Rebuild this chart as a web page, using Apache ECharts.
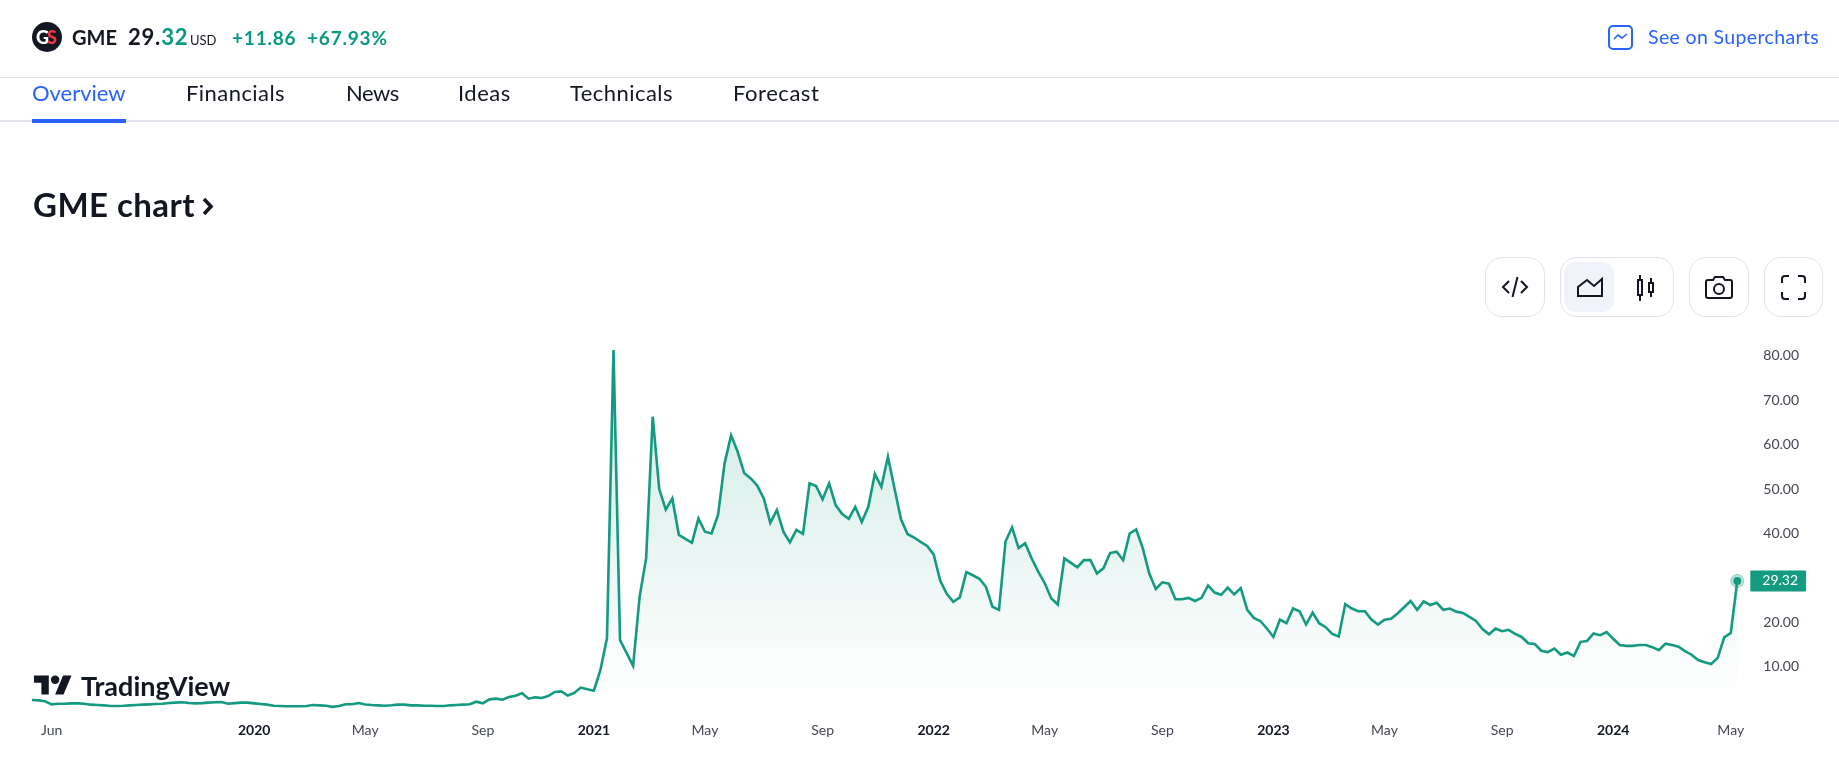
<!DOCTYPE html>
<html>
<head>
<meta charset="utf-8">
<title>GME chart</title>
<script src="https://cdn.jsdelivr.net/npm/echarts@6/dist/echarts.min.js"></script>
<style>
html,body{margin:0;padding:0;background:#fff;overflow:hidden;width:1839px;height:767px;font-family:Lato,"Noto Sans",sans-serif;color:#131722}
#chart{position:absolute;left:0;top:0;width:1839px;height:767px}
.t{position:absolute;white-space:nowrap;line-height:1}
.ln{position:absolute;left:0;width:1839px;background:#e0e3eb}
.btn{position:absolute;top:257px;height:60px;box-sizing:border-box;border:1px solid #e0e3eb;border-radius:17px;background:#fff}
svg.i{position:absolute}
.tab{font-size:22px;top:82px}
</style>
</head>
<body>
<div id="chart"></div>

<div style="position:absolute;left:32px;top:22px;width:30px;height:30px;border-radius:50%;background:#131722"></div>
<div class="t" style="left:36px;top:28px;font-size:18px;font-weight:900;color:#fff;letter-spacing:-2px">G<span style="color:#f23645">S</span></div>
<div class="t" style="left:72px;top:27px;font-size:20px;font-weight:700">GME</div>
<div class="t" style="left:128px;top:26px;font-size:22px;font-weight:700;letter-spacing:.8px">29.<span style="color:#089981">32</span></div>
<div class="t" style="left:190px;top:34px;font-size:13px">USD</div>
<div class="t" style="left:232px;top:28px;font-size:19px;font-weight:700;color:#089981;letter-spacing:.8px">+11.86</div>
<div class="t" style="left:307px;top:28px;font-size:19px;font-weight:700;color:#089981;letter-spacing:.8px">+67.93%</div>
<svg class="i" style="left:1608px;top:25px" width="25" height="25" viewBox="0 0 25 25" fill="none" stroke="#2962ff" stroke-width="2"><rect x="1" y="1" width="23" height="23" rx="4"/><path d="M6 14l4-4 4 3 5-4" stroke-width="1.6"/></svg>
<div class="t" style="left:1648px;top:27px;font-size:19.5px;letter-spacing:.36px;color:#2962ff">See on Supercharts</div>

<div class="ln" style="top:77px;height:1px"></div>
<div class="ln" style="top:120px;height:2px"></div>
<div style="position:absolute;left:32px;top:119px;width:94px;height:4px;background:#2962ff"></div>
<div class="t tab" style="left:32px;color:#2962ff">Overview</div>
<div class="t tab" style="left:186px;letter-spacing:.45px">Financials</div>
<div class="t tab" style="left:346px;letter-spacing:-.5px">News</div>
<div class="t tab" style="left:458px;letter-spacing:.5px">Ideas</div>
<div class="t tab" style="left:570px;letter-spacing:.45px">Technicals</div>
<div class="t tab" style="left:733px;letter-spacing:.55px">Forecast</div>

<div class="t" style="left:33px;top:188px;font-size:33px;font-weight:700;letter-spacing:.45px">GME chart</div>
<svg class="i" style="left:202px;top:197px" width="13" height="19" viewBox="0 0 13 19" fill="none" stroke="#131722" stroke-width="3.6"><path d="M2 2l7 7.5L2 17"/></svg>

<div class="btn" style="left:1485px;width:60px"></div>
<svg class="i" style="left:1500px;top:272px" width="30" height="30" viewBox="0 0 30 30" fill="none" stroke="#131722" stroke-width="2"><path d="M9 9l-6 6 6 6M21 9l6 6-6 6M17.5 5l-5 20"/></svg>
<div class="btn" style="left:1560px;width:114px"></div>
<div style="position:absolute;left:1564px;top:262px;width:50px;height:50px;border-radius:12px;background:#f0f3fa"></div>
<svg class="i" style="left:1576px;top:276px" width="28" height="22" viewBox="0 0 28 22" fill="none" stroke="#131722" stroke-width="2"><path d="M2 20h24V3l-8 7-7-6-9 7z"/></svg>
<svg class="i" style="left:1636px;top:274px" width="20" height="28" viewBox="0 0 20 28" fill="none" stroke="#131722" stroke-width="2"><rect x="2" y="6" width="4" height="15"/><path d="M4 1v5M4 21v6"/><rect x="13" y="9" width="4" height="9"/><path d="M15 4v5M15 18v5"/></svg>
<div class="btn" style="left:1689px;width:60px"></div>
<svg class="i" style="left:1704px;top:275px" width="30" height="25" viewBox="0 0 30 25" fill="none" stroke="#131722" stroke-width="2"><path d="M4 5h5l2-3h8l2 3h5a2 2 0 0 1 2 2v14a2 2 0 0 1-2 2H4a2 2 0 0 1-2-2V7a2 2 0 0 1 2-2z"/><circle cx="15" cy="14" r="5"/></svg>
<div class="btn" style="left:1764px;width:59px"></div>
<svg class="i" style="left:1780px;top:274px" width="27" height="27" viewBox="0 0 27 27" fill="none" stroke="#131722" stroke-width="2"><path d="M9 2H5a3 3 0 0 0-3 3v4M18 2h4a3 3 0 0 1 3 3v4M9 25H5a3 3 0 0 1-3-3v-4M18 25h4a3 3 0 0 0 3-3v-4"/></svg>

<svg class="i" style="left:34px;top:671px;z-index:5" width="38" height="30" viewBox="0 0 36 28" fill="#131722"><path d="M14 22H7V11H0V4h14v18zM28 22h-8l7.5-18h8L28 22z"/><circle cx="20" cy="8" r="4"/></svg>
<div class="t" style="left:81px;top:672px;font-size:27px;font-weight:700;color:#131722;z-index:5">TradingView</div>

<script>
// Weekly closes, one array per calendar year.
const prices2019 = [2.5,2.42,2.2,1.52,1.67,1.67,1.74,1.74,1.67,1.45,1.37,1.3,1.15,1.15,1.2,1.3,1.37,1.45,1.52,1.6,1.67,1.82,1.9,2.0,1.82,1.74,1.8,1.9,2.0,2.05,1.67,1.8,1.9,1.9];
const prices2020 = [1.74,1.6,1.45,1.2,1.15,1.08,1.08,1.08,1.15,1.37,1.3,1.22,0.95,1.15,1.53,1.53,1.83,1.5,1.37,1.3,1.22,1.3,1.45,1.45,1.3,1.3,1.22,1.22,1.15,1.15,1.3,1.37,1.45,1.53,2.12,1.75,2.65,2.8,2.57,3.17,3.47,4.0,2.8,3.1,2.95,3.4,4.3,4.45,3.5,4.1,5.3,4.9];
const prices2021 = [4.6,9.26,16.4,81.3,16.0,13.1,10.2,25.8,34.5,66.3,50.0,45.4,47.9,39.7,38.8,37.9,43.4,40.4,40.0,44.2,55.8,62.1,58.4,53.6,52.4,50.8,47.9,42.4,45.3,40.4,38.0,40.8,39.9,51.3,50.7,47.7,51.3,46.4,44.4,43.3,46.0,42.6,46.0,53.4,50.5,57.3,50.2,43.2,39.9,39.1,38.1,37.2];
const prices2022 = [35.3,29.4,26.4,24.6,25.6,31.3,30.6,29.8,28.0,23.5,22.8,38.2,41.4,36.7,37.8,34.4,31.4,28.8,25.4,24.0,34.4,33.4,32.4,34.0,34.0,31.0,32.2,35.6,35.9,34.0,40.0,40.9,36.7,31.0,27.5,29.0,28.7,25.2,25.2,25.5,24.8,25.5,28.3,26.7,26.2,27.8,26.3,27.7,22.8,21.0,20.3,18.6];
const prices2023 = [16.7,20.6,19.8,23.1,22.5,19.5,22.2,19.8,18.9,17.4,16.8,24.1,23.1,22.5,22.5,20.6,19.5,20.6,20.8,22.0,23.4,24.8,22.8,24.7,23.9,24.4,22.8,23.1,22.4,22.1,21.2,20.3,18.5,17.3,18.6,18.0,18.3,17.4,16.7,15.3,15.1,13.6,13.3,14.1,12.7,13.2,12.4,15.6,15.8,17.5,17.1,17.8];
const prices2024 = [16.3,14.9,14.7,14.7,14.9,14.9,14.4,13.7,15.2,14.9,14.5,13.5,12.7,11.5,11.0,10.6,12.0,16.6,17.6,29.32];
const prices = [].concat(prices2019, prices2020, prices2021, prices2022, prices2023, prices2024);

// One category per trading week, starting on the Monday of the first bar.
const firstWeekUTC = Date.UTC(2019, 4, 13);
const weeks = prices.map((_, i) => new Date(firstWeekUTC + i * 7 * 86400000).toISOString().slice(0, 10));

const tickWeeks  = ['2019-06-03','2020-01-06','2020-05-04','2020-09-07','2021-01-04','2021-05-03','2021-09-06','2022-01-03','2022-05-02','2022-09-05','2023-01-02','2023-05-01','2023-09-04','2024-01-01','2024-05-06'];
const tickLabels = ['Jun','2020','May','Sep','2021','May','Sep','2022','May','Sep','2023','May','Sep','2024','May'];

const GREEN = '#149a80';
const FONT = 'Lato, "Noto Sans", sans-serif';
const lastWeek = weeks[weeks.length - 1];
const lastPrice = prices[prices.length - 1];

const chart = echarts.init(document.getElementById('chart'), null, {renderer: 'canvas'});
chart.setOption({
  animation: false,
  backgroundColor: 'transparent',
  grid: {left: 32, right: 101.7, top: 311.5, height: 399.6, containLabel: false},
  xAxis: {
    type: 'category',
    data: weeks,
    boundaryGap: false,
    axisLine: {show: false},
    axisTick: {show: false},
    splitLine: {show: false},
    axisLabel: {
      interval: (i, v) => tickWeeks.includes(v),
      hideOverlap: false,
      margin: 12,
      formatter: v => {
        const s = tickLabels[tickWeeks.indexOf(v)];
        return /^\d+$/.test(s) ? '{y|' + s + '}' : '{m|' + s + '}';
      },
      rich: {
        m: {fontFamily: FONT, fontSize: 14, color: '#434651'},
        y: {fontFamily: FONT, fontSize: 14, fontWeight: 'bold', color: '#131722'}
      }
    }
  },
  yAxis: {
    type: 'value',
    position: 'right',
    min: 0,
    max: 90,
    interval: 10,
    axisLine: {show: false},
    axisTick: {show: false},
    splitLine: {show: false},
    axisLabel: {
      showMinLabel: false,
      showMaxLabel: false,
      margin: 26,
      align: 'left',
      fontFamily: FONT,
      fontSize: 14,
      color: '#434651',
      formatter: v => v.toFixed(2)
    }
  },
  series: [
    {
      type: 'line',
      data: prices,
      symbol: 'none',
      smooth: false,
      lineStyle: {color: GREEN, width: 2.6, join: 'miter'},
      areaStyle: {
        color: new echarts.graphic.LinearGradient(0, 0, 0, 1, [
          {offset: 0, color: 'rgba(20,154,128,0.3)'},
          {offset: 0.98, color: 'rgba(20,154,128,0)'},
          {offset: 1, color: 'rgba(20,154,128,0)'}
        ])
      },
      silent: true,
      z: 2
    },
    {
      type: 'scatter',
      data: [[lastWeek, lastPrice]],
      symbolSize: 13,
      itemStyle: {color: 'rgba(20,154,128,0.28)', borderColor: 'rgba(20,154,128,0.4)', borderWidth: 1, opacity: 1},
      label: {
        show: true,
        position: 'right',
        distance: 6,
        formatter: () => lastPrice.toFixed(2),
        backgroundColor: GREEN,
        color: '#fff',
        opacity: 1,
        fontFamily: FONT,
        fontSize: 14,
        padding: [4, 8, 3, 12],
        borderRadius: 1
      },
      silent: true,
      z: 3
    },
    {
      type: 'scatter',
      data: [[lastWeek, lastPrice]],
      symbolSize: 8,
      itemStyle: {color: GREEN, opacity: 1},
      silent: true,
      z: 4
    }
  ]
});
</script>
</body>
</html>
